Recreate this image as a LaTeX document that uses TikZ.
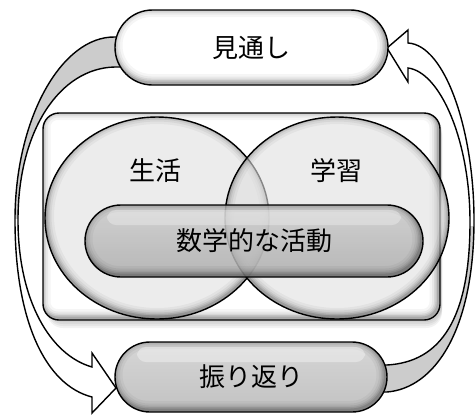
\documentclass[tikz,border=0pt]{standalone}
\usepackage{fontspec}
\newfontfamily\jp{Noto Sans CJK JP}
\usetikzlibrary{shapes.geometric}
\def\LArrow#1{\path[#1] (130,37) -- (115,37) .. controls (62,36) and (15,118) .. (15,220) .. controls (15,320) and (45,385) .. (92,397) -- (92,413) -- (116,388) -- (92,353) -- (92,367) .. controls (50,355) and (18,300) .. (18,220) .. controls (18,130) and (60,68) .. (115,67) -- (130,67) -- cycle;}
\def\RArrow#1{\path[#1] (372,392) -- (387,392) .. controls (435,388) and (474,330) .. (474,220) .. controls (474,130) and (445,45) .. (408,43) -- (408,30) -- (387,48) -- (408,82) -- (408,68) .. controls (440,72) and (470,140) .. (470,222) .. controls (470,320) and (440,362) .. (387,365) -- (372,365) -- cycle;}
\begin{document}
\begin{tikzpicture}[x=1pt,y=-1pt,
  edge/.style={draw=black,line width=1.4pt},
  jptext/.style={font=\jp\fontsize{26}{30}\selectfont,text=black,text opacity=1},
  pshade/.style 2 args={path picture={
    \foreach \w/\o in {18/0.04,13/0.05,9/0.07,6/0.09,3/0.13}{
      \draw[line width=\w pt,black,opacity=\o,rounded corners=#1]
        ([xshift=-1.5pt,yshift=2pt]path picture bounding box.south west) rectangle ([xshift=-1.5pt,yshift=2pt]path picture bounding box.north east);}
    \fill[white,opacity=#2,rounded corners=9pt] ([xshift=22pt,yshift=-5pt]path picture bounding box.north west) rectangle ([xshift=-22pt,yshift=-20pt]path picture bounding box.north east);}},
  eshade/.style={path picture={
    \foreach \w/\o in {18/0.04,13/0.05,9/0.07,6/0.09,3/0.13}{
      \draw[line width=\w pt,black,opacity=\o]
        ([yshift=2pt]path picture bounding box.center) ellipse [x radius=112pt,y radius=101pt];}}},
  pill/.style={rectangle,rounded corners=#1,edge,inner sep=0pt,jptext},
]
\useasboundingbox (0,0) rectangle (476,416);
% arrows
\LArrow{fill=white}
\begin{scope}
  \clip (0,0) rectangle (240,218);
  \LArrow{fill=black!20}
\end{scope}
\LArrow{draw=black,line width=1.4pt}
\RArrow{fill=white}
\begin{scope}
  \clip (240,226) rectangle (476,416);
  \RArrow{fill=black!20}
\end{scope}
\RArrow{draw=black,line width=1.4pt}
% frame shadow
\foreach \d in {2,4,6,8}
  \fill[black,opacity=0.05,rounded corners=16pt] (47,113+\d) rectangle (442,320+\d);
\node[rectangle,rounded corners=16pt,edge,fill=white,minimum width=397pt,minimum height=207pt,pshade={16pt}{0}] (frame) at (241.5,216.5) {};
% circles
\node[ellipse,edge,fill=black!12,fill opacity=0.6,minimum width=224pt,minimum height=202pt,inner sep=0pt,eshade] (life) at (157,218) {};
\node[ellipse,edge,fill=black!12,fill opacity=0.6,minimum width=224pt,minimum height=202pt,inner sep=0pt,eshade] (study) at (337,218) {};
\node[jptext] (seikatsu) at (155,171) {生活};
\node[jptext] (gakushu) at (336,171) {学習};
% inner pill
\node[pill=36pt,minimum width=338pt,minimum height=72pt,top color=black!20,bottom color=black!32,fill opacity=0.85,pshade={36pt}{0.3}] (act) at (254,241) {数学的な活動};
% top and bottom pills
\node[pill=37.5pt,minimum width=273pt,minimum height=75pt,fill=white,pshade={37.5pt}{0}] (mitoshi) at (251.5,47.5) {見通し};
\node[pill=35pt,minimum width=272pt,minimum height=70pt,top color=black!16,bottom color=black!24,pshade={35pt}{0.35}] (furikaeri) at (251,377) {振り返り};
\end{tikzpicture}
\end{document}
